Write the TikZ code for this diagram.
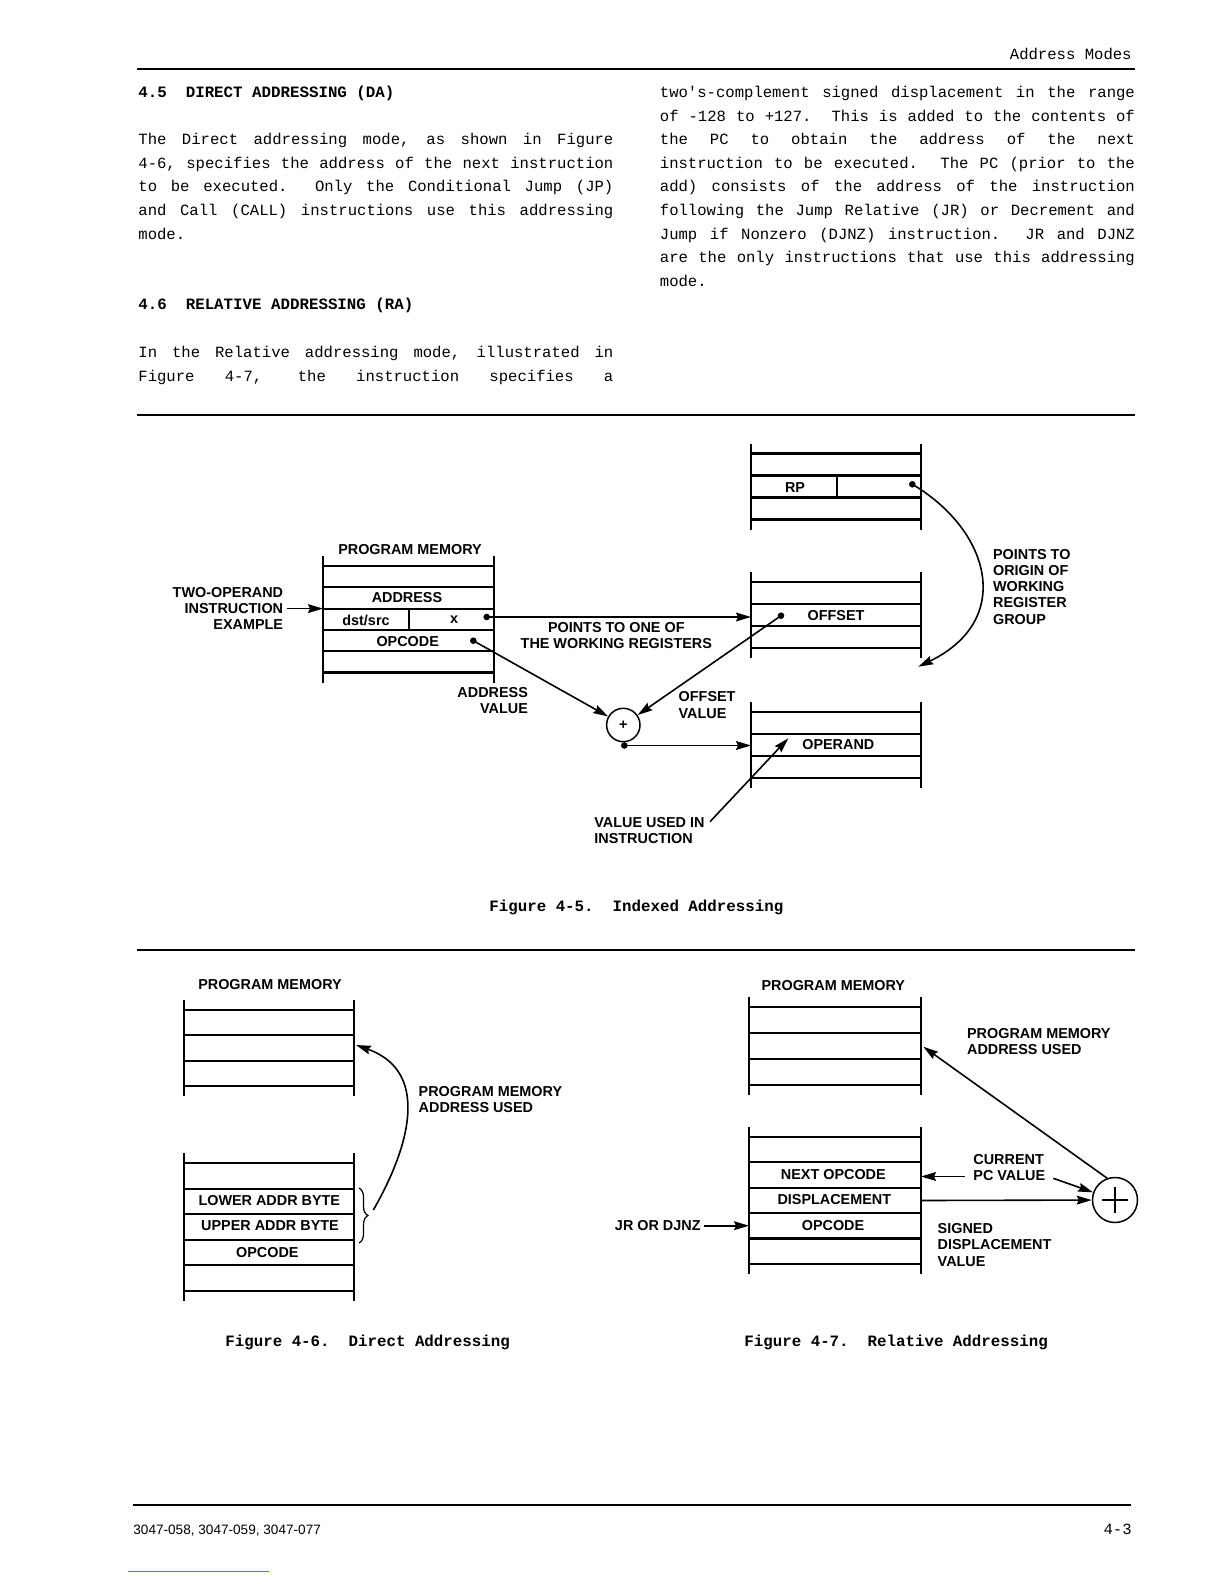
\documentclass[tikz,border=0pt]{standalone}
\usepackage{fontspec}
\setmainfont{Liberation Mono}
\newfontfamily\diagfont{Liberation Sans}
\usetikzlibrary{arrows.meta,decorations.pathreplacing}

\newcommand\lblfont{\diagfont\bfseries\fontsize{7.2}{8.15}\selectfont}
\newcommand\txtfont{\fontsize{7.8}{11.8}\selectfont\spaceskip=0.6em plus 2em minus 0.05em\xspaceskip=\spaceskip
  \tolerance=10000\pretolerance=10000\hbadness=10000\hyphenpenalty=10000\relax}
\newcommand\hdfont{\bfseries\fontsize{7.9}{11.8}\selectfont}

% memory column: left x, right x, first line y, line step, number of lines
\newcommand\memstack[5]{%
  \draw[memline] (#1,{#3-10}) -- (#1,{#3+(#5-1)*#4+10})
                 (#2,{#3-10}) -- (#2,{#3+(#5-1)*#4+10});
  \foreach \k in {1,...,#5}
    \draw[memline] (#1,{#3+(\k-1)*#4}) -- (#2,{#3+(\k-1)*#4});
}

\tikzset{
  memline/.style={line width=1.1pt},
  rule/.style={line width=1pt},
  arr/.style={line width=0.8pt, -{Stealth[length=7.5pt,width=4.4pt,inset=1pt]}},
  dot/.style={circle, fill, inner sep=0pt, minimum size=3.3pt},
  lbl/.style={font=\lblfont, inner sep=1.5pt},
  para/.style={font=\txtfont, text width=237.5pt, align=justify, inner sep=0pt, anchor=base west},
  head/.style={font=\hdfont, inner sep=0pt, anchor=base west},
}

\begin{document}
\begin{tikzpicture}[x=0.5pt, y=-0.5pt]
  \fill[white] (0,0) rectangle (1224,1584);
  \useasboundingbox (0,0) rectangle (1224,1584);

  % page head and text
  \node[anchor=base east, inner sep=0pt, font=\txtfont] (hdr) at (1132,60) {Address Modes};
  \draw[rule] (137,69) -- (1135,69);

  \node[head] (sec45) at (138,97.5) {4.5\ \ DIRECT ADDRESSING (DA)};
  \node[para] (txt45) at (138,144.7) {The Direct addressing mode, as shown in Figure\linebreak
    4-6, specifies the address of the next instruction\linebreak
    to be executed.\ \ Only the Conditional Jump (JP)\linebreak
    and Call (CALL) instructions use this addressing\linebreak
    mode.};
  \node[head] (sec46) at (138,309.5) {4.6\ \ RELATIVE ADDRESSING (RA)};
  \node[para] (txt46) at (138,357.5) {In the Relative addressing mode, illustrated in\linebreak
    Figure 4-7, the instruction specifies a\linebreak};
  \node[para] (txtright) at (659.5,97.5) {two\textquotesingle s-complement signed displacement in the range\linebreak
    of -128 to +127.\ \ This is added to the contents of\linebreak
    the PC to obtain the address of the next\linebreak
    instruction to be executed.\ \ The PC (prior to the\linebreak
    add) consists of the address of the instruction\linebreak
    following the Jump Relative (JR) or Decrement and\linebreak
    Jump if Nonzero (DJNZ) instruction.\ \ JR and DJNZ\linebreak
    are the only instructions that use this addressing\linebreak
    mode.};

  \draw[rule] (137,415) -- (1135,415);

  % Figure 4-5
  \memstack{323}{494}{566}{21.3}{6}
  \draw[memline] (409.3,608.6) -- (409.3,629.9);
  \memstack{751}{921}{453.5}{22}{4}
  \draw[memline] (837.3,475.5) -- (837.3,497.5);
  \memstack{751}{921}{582}{22}{4}
  \memstack{751}{921}{712}{22}{4}

  \node[lbl] (pm5) at (410,550) {PROGRAM MEMORY};
  \node[lbl, anchor=east, align=right] (twoop) at (286.5,608.3) {TWO-OPERAND\\INSTRUCTION\\EXAMPLE};
  \node[lbl] (addr) at (407,597.7) {ADDRESS};
  \node[lbl] (dstsrc) at (366,620) {dst/src};
  \node[lbl] (xfield) at (454,620) {x};
  \node[lbl] (opc5) at (407.7,642) {OPCODE};
  \node[dot] (xdot) at (486.7,617) {};
  \node[dot] (opdot) at (473.3,640.7) {};
  \node[lbl] (rp) at (795,487.3) {RP};
  \node[dot] (rpdot) at (912.3,484.3) {};
  \node[lbl] (offset) at (836,616) {OFFSET};
  \node[dot] (offdot) at (781,615.7) {};
  \node[lbl] (operand) at (838.3,745) {OPERAND};
  \node[draw, circle, line width=0.75pt, minimum size=16.7pt, inner sep=0pt, font=\lblfont] (sum5) at (623.3,725) {+};
  \node[dot] (sumdot) at (624.3,745.5) {};

  \node[lbl, align=center] (ptone) at (616.3,635.5) {POINTS TO ONE OF\\THE WORKING REGISTERS};
  \node[lbl, anchor=east, align=right] (addrval) at (531.3,700.2) {ADDRESS\\VALUE};
  \node[lbl, anchor=west, align=left] (offval) at (675.3,705) {OFFSET\\VALUE};
  \node[lbl, anchor=west, align=left] (origin) at (989.7,586.7) {POINTS TO\\ORIGIN OF\\WORKING\\REGISTER\\GROUP};
  \node[lbl, anchor=west, align=left] (used5) at (591,830.5) {VALUE USED IN\\INSTRUCTION};

  \coordinate (pmin) at (323,608.6);
  \coordinate (offin) at (751,617);
  \coordinate (opin) at (751,745.5);
  \coordinate (usedfrom) at (710,821.7);
  \coordinate (usedto) at (788.3,738.3);
  \coordinate (grpend) at (918.3,666.7);

  \draw[arr] (twoop.east |- pmin) -- (pmin);
  \draw[arr] (xdot.center) -- (offin);
  \draw[arr] (opdot.center) -- (sum5);
  \draw[arr] (offdot.center) -- (sum5);
  \draw[arr] (sumdot.center) -- (opin);
  \draw[arr] (usedfrom) -- (usedto);
  \draw[arr] (rpdot.center) .. controls (990,530) and (1015,620) .. (grpend);

  \node[head] (cap5) at (489,911) {Figure 4-5.\ \ Indexed Addressing};
  \draw[rule] (137,950) -- (1135,950);

  % Figure 4-6
  \memstack{184}{354}{1010}{25.3}{4}
  \memstack{184}{354}{1163.3}{25.5}{6}
  \node[lbl] (pm6) at (270,985) {PROGRAM MEMORY};
  \node[lbl] (lower) at (269.3,1201) {LOWER ADDR BYTE};
  \node[lbl] (upper) at (270,1225.7) {UPPER ADDR BYTE};
  \node[lbl] (opc6) at (267.3,1252.7) {OPCODE};
  \node[lbl, anchor=west, align=left] (used6) at (415.3,1099.7) {PROGRAM MEMORY\\ADDRESS USED};
  \draw[line width=0.6pt, decorate, decoration={brace, amplitude=4.5pt}] (359,1188) -- (359,1243);
  \coordinate (brtip) at (373.3,1210);
  \coordinate (pmused6) at (356,1045);
  \draw[arr] (brtip) .. controls (408,1150) and (432,1072) .. (pmused6);
  \node[head] (cap6) at (225,1346) {Figure 4-6.\ \ Direct Addressing};

  % Figure 4-7
  \memstack{749}{921}{1007.3}{25.9}{4}
  \memstack{749}{921}{1136.7}{25.45}{6}
  \node[lbl] (pm7) at (833.3,985.7) {PROGRAM MEMORY};
  \node[lbl] (nextop) at (833.3,1174.3) {NEXT OPCODE};
  \node[lbl] (disp) at (834.3,1199.5) {DISPLACEMENT};
  \node[lbl] (opc7) at (833,1225.5) {OPCODE};
  \node[lbl, anchor=east] (jr) at (704,1225.7) {JR OR DJNZ};
  \node[lbl, anchor=west, align=left] (curpc) at (970,1167.5) {CURRENT\\PC VALUE};
  \node[lbl, anchor=west, align=left] (used7) at (963.7,1041.3) {PROGRAM MEMORY\\ADDRESS USED};
  \node[lbl, anchor=west, align=left] (signed) at (934.3,1245) {SIGNED\\DISPLACEMENT\\VALUE};
  \node[draw, circle, line width=0.75pt, minimum size=22.5pt, inner sep=0pt] (sum7) at (1115,1200) {};
  \draw[line width=0.75pt] (sum7.center) ++(-13,0) -- ++(26,0)
                           (sum7.center) ++(0,-13) -- ++(0,26);

  \coordinate (jrin) at (749,1225.7);
  \coordinate (pcin) at (921,1176.5);
  \coordinate (pcfrom) at (965,1176.5);
  \coordinate (pcarr) at (1053.3,1178.3);
  \coordinate (dispout) at (921,1200.5);
  \coordinate (pmused7) at (923.3,1046.7);

  \draw[arr] (jr) -- (jrin);
  \draw[arr] (pcfrom) -- (pcin);
  \draw[arr] (pcarr) -- (sum7);
  \draw[arr] (dispout) -- (sum7);
  \draw[arr] (sum7.110) -- (pmused7);
  \node[head] (cap7) at (744,1346) {Figure 4-7.\ \ Relative Addressing};

  % page foot
  \draw[rule] (133,1505) -- (1131,1505);
  \node[anchor=base west, inner sep=0pt, font=\diagfont\fontsize{6.8}{8}\selectfont] (docno) at (133,1534.5) {3047-058, 3047-059, 3047-077};
  \node[anchor=base east, inner sep=0pt, font=\txtfont] (pageno) at (1132,1534) {4-3};
  \draw[blue!60, line width=0.5pt] (128,1571) -- (269,1571);
\end{tikzpicture}
\end{document}
